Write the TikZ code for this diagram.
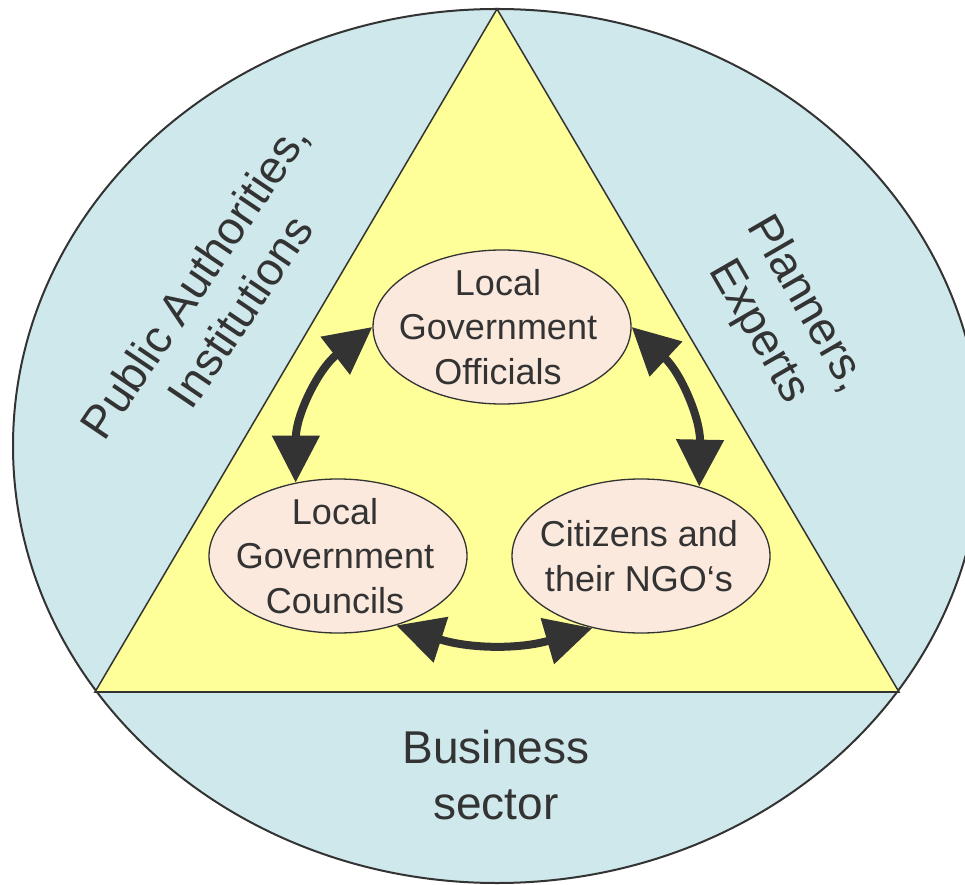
\documentclass[tikz,border=0pt]{standalone}
\usepackage{fontspec}
\setmainfont{Liberation Sans}
\usetikzlibrary{arrows.meta,shapes.geometric}
\definecolor{ringblue}{HTML}{CFE8EB}
\definecolor{triyellow}{HTML}{FFFF99}
\definecolor{peach}{HTML}{FBE9DE}
\definecolor{ink}{HTML}{333333}
\begin{document}
\begin{tikzpicture}[x=1pt,y=1pt,
  role/.style={ellipse, draw=ink, line width=1.3pt, fill=peach, minimum width=258pt, minimum height=154pt, inner sep=0pt},
  roletext/.style={text=ink, font=\fontsize{36}{44.5}\selectfont, align=center, inner sep=0pt},
  sidetext/.style={text=ink, font=\fontsize{46}{55}\selectfont, align=center, inner sep=0pt},
  link/.style={draw=ink, line width=8pt, {Triangle[length=47pt,width=46pt]}-{Triangle[length=47pt,width=46pt]}}
]
\useasboundingbox (0,0) rectangle (965,884);
\clip (0,0) rectangle (965,884);
\node[ellipse, draw=ink, line width=2pt, fill=ringblue, minimum width=968pt, minimum height=874pt, inner sep=0pt] (ring) at (497,438) {};
\coordinate (apex) at (497,875);
\coordinate (bl) at (95,192);
\coordinate (br) at (899,192);
\draw[draw=ink, line width=1.5pt, fill=triyellow] (apex) -- (bl) -- (br) -- cycle;
\draw[ink, line width=2.5pt] (bl) -- (br);

\node[role] (off) at (502,557) {};
\node[roletext] (offT) at ([xshift=-4pt]off.center) {Local\\Government\\Officials};
\node[role] (cou) at (338,328) {};
\node[roletext] (couT) at ([xshift=-3pt]cou.center) {Local\\Government\\Councils};
\node[role] (cit) at (641,328) {};
\node[roletext] (citT) at ([xshift=-2pt]cit.center) {Citizens and\\their NGO‘s};

\draw[link] (off.180) to[bend right=26] (cou.120);
\draw[link] (off.0) to[bend left=24] (cit.50);
\draw[link] (cou.-50) to[bend right=17] (cit.-124);

\node[sidetext, rotate=56] (pub) at (217,588) {Public Authorities,\\Institutions};
\node[sidetext, rotate=-60] (pla) at (782,566) {Planners,\\Experts};
\node[sidetext, font=\fontsize{46}{56}\selectfont] (bus) at (496,109) {Business\\sector};
\end{tikzpicture}
\end{document}
